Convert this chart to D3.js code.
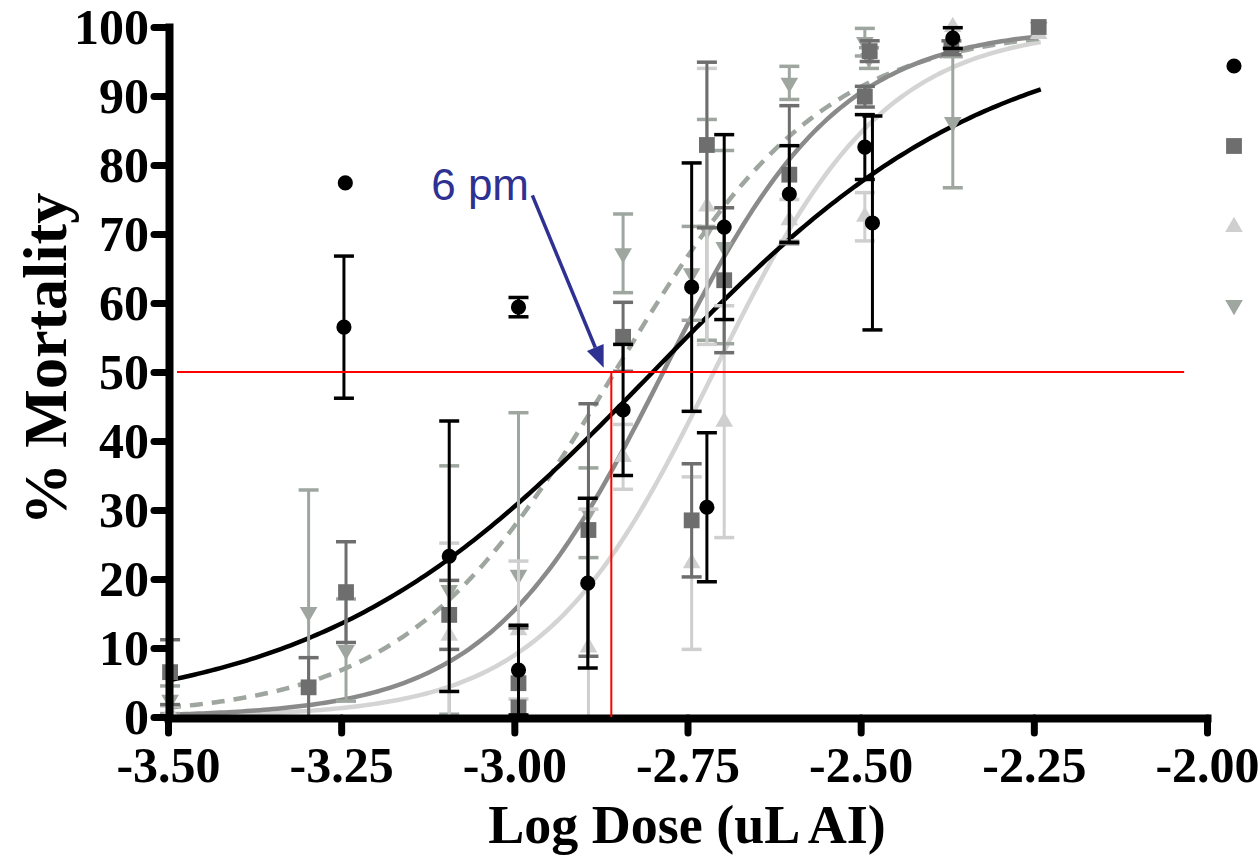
<!DOCTYPE html>
<html>
<head>
<meta charset="utf-8">
<script src="https://cdn.jsdelivr.net/npm/d3@7"></script>
<style>
  body { margin: 0; background: #fff; }
  text { font-family: "Liberation Serif", "Times New Roman", serif; font-weight: bold; }
</style>
</head>
<body>
<svg id="chart" width="1258" height="859"></svg>
<script>
// axis ticks
var xTicks = [-3.5, -3.25, -3.0, -2.75, -2.5, -2.25, -2.0];
var yTicks = [0, 10, 20, 30, 40, 50, 60, 70, 80, 90, 100];

// series 1 - black circles
var circleDose = [-3.246, -3.244, -3.094, -2.994, -2.994, -2.894, -2.843, -2.744, -2.722, -2.697, -2.603, -2.494, -2.483, -2.367];
var circleMean = [56.5, 77.4, 23.3, 59.4, 6.8, 19.4, 44.5, 62.3, 30.4, 71.0, 75.8, 82.6, 71.6, 98.4];
var circleErr  = [10.3, 0, 19.6, 1.4, 6.5, 12.3, 9.5, 18.0, 10.8, 13.4, 7.0, 4.7, 15.5, 1.5];

// series 2 - dark grey squares
var squareDose = [-3.497, -3.297, -3.243, -3.094, -2.994, -2.994, -2.893, -2.843, -2.744, -2.722, -2.697, -2.603, -2.494, -2.487, -2.369, -2.243];
var squareMean = [6.5, 4.3, 18.1, 14.8, 4.9, 1.4, 27.1, 55.1, 28.5, 82.9, 63.3, 78.6, 89.9, 96.5, 97.0, 100];
var squareErr  = [4.7, 4.3, 7.3, 5.0, 8.0, 0, 18.3, 5.0, 8.2, 12.0, 10.5, 10.0, 1.5, 1.5, 1.0, 0];

// series 3 - light grey triangles (up)
var triUpDose = [-3.497, -3.094, -2.994, -2.893, -2.843, -2.744, -2.722, -2.697, -2.603, -2.494, -2.367, -2.243];
var triUpMean = [0.6, 11.8, 12.6, 10.1, 37.7, 22.3, 74.0, 42.8, 72.0, 72.5, 100, 99.0];
var triUpErr  = [1.0, 13.4, 10.0, 20.0, 4.7, 12.5, 20.0, 16.8, 3.0, 3.5, 0, 0];

// series 4 - grey-green triangles (down)
var triDownDose = [-3.497, -3.297, -3.243, -3.094, -2.994, -2.893, -2.843, -2.744, -2.722, -2.697, -2.603, -2.494, -2.488, -2.367, -2.243];
var triDownMean = [2.5, 15.2, 9.7, 18.4, 20.6, 29.6, 67.2, 64.3, 70.6, 68.1, 91.9, 97.8, 95.5, 86.2, 100];
var triDownErr  = [2.0, 17.7, 7.4, 18.0, 23.5, 6.5, 5.7, 6.8, 16.0, 14.0, 2.4, 2.0, 1.5, 9.5, 0];

// fitted dose-response curves (log EC50, hill slope), circle/square/up/down
var fitLogEC50 = [-2.80, -2.785, -2.712, -2.855];
var fitHill    = [1.79, 3.43, 3.5, 2.88];
var fitRange   = [-3.5, -2.24];

// annotation
var refMortality = 50;
var refDose = -2.86;
var refLineEnd = -2.033;
var noteText = '6 pm';
var noteAt = [-3.12, 74.9];
var arrowFrom = [-2.974, 75.6];
var arrowTo = [-2.871, 50.6];

var series = [
  { dose: triDownDose, mean: triDownMean, err: triDownErr, sym: 'down', color: '#9ea69f', line: '#9ea69f', dash: '13,9', fit: 3 },
  { dose: triUpDose, mean: triUpMean, err: triUpErr, sym: 'up', color: '#cfcfcf', line: '#d4d4d4', dash: null, fit: 2 },
  { dose: squareDose, mean: squareMean, err: squareErr, sym: 'square', color: '#6e6e6e', line: '#8a8a8a', dash: null, fit: 1 },
  { dose: circleDose, mean: circleMean, err: circleErr, sym: 'circle', color: '#000000', line: '#000000', dash: null, fit: 0 }
];

var svg = d3.select('#chart');
var x = d3.scaleLinear().domain([-3.5, -2.0]).range([168, 1207]);
var y = d3.scaleLinear().domain([0, 100]).range([717, 27]);

function symbolPath(kind) {
  if (kind == 'circle') return d3.symbol().type(d3.symbolCircle).size(180)();
  if (kind == 'square') return d3.symbol().type(d3.symbolSquare).size(250)();
  return d3.symbol().type(d3.symbolTriangle).size(135)();
}

// curves
var curveGroup = svg.append('g');
[1, 0, 2, 3].forEach(function(i) {
  var s = series[i];
  var pts = d3.range(0, 201).map(function(k) {
    var xv = fitRange[0] + (fitRange[1] - fitRange[0]) * k / 200;
    var yv = 100 / (1 + Math.pow(10, (fitLogEC50[s.fit] - xv) * fitHill[s.fit]));
    return [xv, yv];
  });
  curveGroup.append('path')
    .attr('d', d3.line().x(d => x(d[0])).y(d => y(d[1]))(pts))
    .attr('fill', 'none')
    .attr('stroke', s.line)
    .attr('stroke-width', 4.5)
    .attr('stroke-dasharray', s.dash);
});

// error bars and markers
series.forEach(function(s) {
  var g = svg.append('g');
  s.dose.forEach(function(d, i) {
    var m = s.mean[i], e = s.err[i];
    if (e > 0) {
      var lo = Math.max(0, m - e), hi = Math.min(100, m + e);
      var cx = x(d);
      g.append('line').attr('x1', cx).attr('x2', cx).attr('y1', y(lo)).attr('y2', y(hi))
        .attr('stroke', s.color).attr('stroke-width', 3);
      g.append('line').attr('x1', cx - 10).attr('x2', cx + 10).attr('y1', y(hi)).attr('y2', y(hi))
        .attr('stroke', s.color).attr('stroke-width', 3.5);
      if (m - e > 0) {
        g.append('line').attr('x1', cx - 10).attr('x2', cx + 10).attr('y1', y(lo)).attr('y2', y(lo))
          .attr('stroke', s.color).attr('stroke-width', 3.5);
      }
    }
    g.append('path')
      .attr('d', symbolPath(s.sym))
      .attr('transform', 'translate(' + x(d) + ',' + y(m) + ')' + (s.sym == 'down' ? ' rotate(180)' : ''))
      .attr('fill', s.color);
  });
});

// axes
var yAxis = svg.append('g')
  .attr('transform', 'translate(169,0)')
  .call(d3.axisLeft(y).tickValues(yTicks).tickSize(15).tickSizeOuter(0).tickPadding(5).tickFormat(d => d));
var xAxis = svg.append('g')
  .attr('transform', 'translate(0,718)')
  .call(d3.axisBottom(x).tickValues(xTicks).tickSize(15).tickSizeOuter(0).tickPadding(13).tickFormat(d => d.toFixed(2)));

[yAxis, xAxis].forEach(function(ax) {
  ax.select('.domain').attr('stroke', '#000').attr('stroke-width', 8).attr('stroke-linecap', 'square');
  ax.selectAll('.tick line').attr('stroke', '#000').attr('stroke-width', 7).attr('stroke-linecap', 'round');
  ax.selectAll('.tick text')
    .attr('fill', '#000')
    .style('font-family', '"Liberation Serif", "Times New Roman", serif')
    .style('font-weight', 'bold')
    .style('font-size', '50px');
});

// axis titles
svg.append('text')
  .attr('x', 687).attr('y', 843)
  .attr('text-anchor', 'middle')
  .style('font-size', '54px')
  .text('Log Dose (uL AI)');
svg.append('text')
  .attr('transform', 'translate(66,359) rotate(-90)')
  .attr('text-anchor', 'middle')
  .style('font-size', '62px')
  .text('% Mortality');

// red reference lines
svg.append('line')
  .attr('x1', x(-3.487)).attr('x2', x(refLineEnd))
  .attr('y1', y(refMortality)).attr('y2', y(refMortality))
  .attr('stroke', '#ff0000').attr('stroke-width', 2);
svg.append('line')
  .attr('x1', x(refDose)).attr('x2', x(refDose))
  .attr('y1', y(refMortality)).attr('y2', y(0))
  .attr('stroke', '#ff0000').attr('stroke-width', 2);

// "6 pm" note and arrow
var blue = '#2e3192';
svg.append('text')
  .attr('x', x(noteAt[0])).attr('y', y(noteAt[1]))
  .style('font-family', '"Liberation Sans", Arial, sans-serif')
  .style('font-weight', 'normal')
  .style('font-size', '44px')
  .attr('fill', blue)
  .text(noteText);
var ax0 = x(arrowFrom[0]), ay0 = y(arrowFrom[1]), ax1 = x(arrowTo[0]), ay1 = y(arrowTo[1]);
var ang = Math.atan2(ay1 - ay0, ax1 - ax0);
var headLen = 22, headW = 9;
var bx = ax1 - headLen * Math.cos(ang), by = ay1 - headLen * Math.sin(ang);
svg.append('line')
  .attr('x1', ax0).attr('y1', ay0).attr('x2', bx).attr('y2', by)
  .attr('stroke', blue).attr('stroke-width', 3.5);
svg.append('path')
  .attr('d', 'M' + ax1 + ',' + ay1 +
    'L' + (bx + headW * Math.sin(ang)) + ',' + (by - headW * Math.cos(ang)) +
    'L' + (bx - headW * Math.sin(ang)) + ',' + (by + headW * Math.cos(ang)) + 'Z')
  .attr('fill', blue);

// legend markers (labels are cut off in the original)
var legendY = [66, 146, 227, 305];
[3, 2, 1, 0].forEach(function(i, k) {
  var s = series[i];
  svg.append('path')
    .attr('d', symbolPath(s.sym))
    .attr('transform', 'translate(1234,' + legendY[k] + ')' + (s.sym == 'down' ? ' rotate(180)' : ''))
    .attr('fill', s.color);
});
</script>
</body>
</html>
